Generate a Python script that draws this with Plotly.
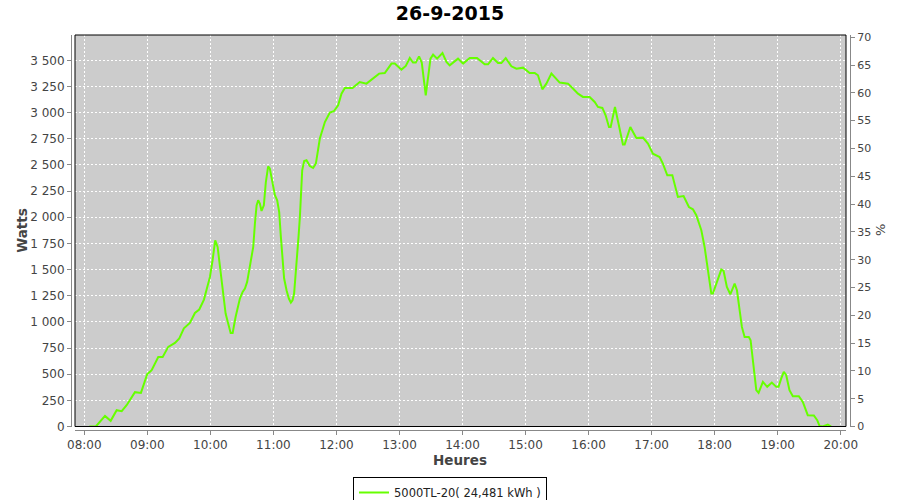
import plotly.graph_objects as go

chart_title = "26-9-2015"
series_name = "5000TL-20( 24,481 kWh )"
day = "2015-09-26"

times = [
    "08:04:48", "08:11:00", "08:19:42", "08:25:06", "08:30:48", "08:35:36", "08:40:18", "08:48:12",
    "08:53:54", "08:59:54", "09:04:06", "09:10:24", "09:14:36", "09:19:54", "09:26:18", "09:30:24",
    "09:34:48", "09:40:30", "09:45:18", "09:49:24", "09:53:54", "09:59:36", "10:02:06", "10:04:36",
    "10:06:54", "10:10:42", "10:14:30", "10:19:18", "10:21:12", "10:24:00", "10:28:06", "10:30:42",
    "10:32:54", "10:35:00", "10:37:00", "10:39:12", "10:40:48", "10:42:24", "10:44:00", "10:45:30",
    "10:47:06", "10:48:42", "10:50:54", "10:52:48", "10:55:00", "10:56:36", "10:58:48", "11:01:24",
    "11:03:36", "11:05:30", "11:07:06", "11:08:42", "11:10:12", "11:12:30", "11:14:42", "11:16:36",
    "11:18:12", "11:19:42", "11:21:24", "11:22:36", "11:23:54", "11:25:12", "11:26:06", "11:27:24",
    "11:29:18", "11:31:30", "11:34:42", "11:37:48", "11:40:24", "11:42:36", "11:44:12", "11:49:00",
    "11:53:42", "11:57:30", "12:01:36", "12:04:48", "12:08:00", "12:15:18", "12:22:12", "12:28:36",
    "12:36:30", "12:40:36", "12:46:00", "12:52:24", "12:55:30", "13:01:54", "13:06:00", "13:09:48",
    "13:12:54", "13:15:30", "13:18:36", "13:21:12", "13:25:00", "13:27:12", "13:29:30", "13:32:00",
    "13:35:48", "13:40:54", "13:44:42", "13:47:48", "13:55:42", "14:00:30", "14:06:54", "14:13:48",
    "14:21:06", "14:24:18", "14:29:00", "14:33:48", "14:37:00", "14:41:06", "14:46:30", "14:51:18",
    "14:57:36", "15:03:54", "15:08:42", "15:11:48", "15:16:00", "15:19:48", "15:24:36", "15:32:30",
    "15:40:24", "15:45:06", "15:49:54", "15:54:36", "16:01:00", "16:05:48", "16:08:54", "16:13:06",
    "16:16:12", "16:19:24", "16:21:00", "16:25:06", "16:28:54", "16:32:42", "16:34:18", "16:39:42",
    "16:45:24", "16:51:42", "16:56:30", "17:01:12", "17:07:36", "17:10:42", "17:14:54", "17:19:42",
    "17:25:00", "17:30:24", "17:35:30", "17:39:18", "17:42:30", "17:47:18", "17:50:24", "17:53:30",
    "17:56:48", "17:58:18", "18:02:06", "18:06:18", "18:08:30", "18:11:36", "18:14:54", "18:19:00",
    "18:21:12", "18:23:06", "18:25:54", "18:28:30", "18:32:30", "18:34:12", "18:36:18", "18:38:00",
    "18:39:36", "18:41:48", "18:45:54", "18:50:00", "18:54:24", "18:58:36", "19:00:48", "19:03:18",
    "19:05:48", "19:08:06", "19:11:12", "19:14:24", "19:20:06", "19:23:54", "19:28:36", "19:34:24",
    "19:37:36", "19:39:48", "19:42:54", "19:47:42", "19:50:54",
]

watts = [
    0, 0, 101, 54, 156, 146, 203, 328,
    321, 500, 538, 665, 665, 761, 799, 841,
    939, 990, 1085, 1118, 1213, 1430, 1589, 1780,
    1716, 1382, 1080, 894, 894, 1047, 1223, 1286,
    1318, 1382, 1494, 1605, 1716, 1940, 2114, 2162,
    2131, 2060, 2114, 2337, 2487, 2465, 2337, 2210,
    2162, 2050, 1812, 1589, 1414, 1302, 1223, 1185,
    1207, 1271, 1462, 1637, 1812, 2003, 2258, 2449,
    2538, 2545, 2490, 2471, 2513, 2640, 2752, 2910,
    3000, 3013, 3070, 3181, 3235, 3235, 3293, 3277,
    3341, 3373, 3379, 3469, 3469, 3411, 3446, 3522,
    3478, 3478, 3538, 3478, 3166, 3325, 3516, 3554,
    3516, 3570, 3484, 3452, 3516, 3469, 3522, 3522,
    3462, 3462, 3522, 3474, 3474, 3522, 3443, 3420,
    3430, 3379, 3379, 3357, 3223, 3277, 3373, 3287,
    3277, 3230, 3181, 3150, 3150, 3102, 3054, 3045,
    2975, 2863, 2863, 3054, 2879, 2695, 2695, 2863,
    2758, 2761, 2704, 2608, 2576, 2513, 2401, 2401,
    2194, 2203, 2098, 2076, 2019, 1876, 1716, 1494,
    1271, 1271, 1382, 1500, 1487, 1334, 1264, 1366,
    1302, 1143, 952, 856, 856, 825, 633, 442,
    347, 321, 426, 379, 420, 379, 379, 458,
    522, 490, 347, 290, 290, 235, 108, 105,
    60, 6, 0, 19, 0,
]

x_range = ["07:51:09", "20:05:00"]
watts_range = [0, 3742]
percent_range = [0, 70.4]

xs = [f"{day} {t}" for t in times]
font_family = "DejaVu Sans, Verdana, sans-serif"
tick_col = "#444444"
axis_col = "#888888"

fig = go.Figure()
fig.add_trace(go.Scatter(
    x=xs, y=watts, mode="lines", name=series_name,
    line=dict(color="#66ff00", width=2),
))
fig.add_trace(go.Scatter(
    x=[xs[0]], y=[0], yaxis="y2", mode="markers",
    marker=dict(opacity=0), showlegend=False, hoverinfo="skip",
))

W, H = 900, 500
ml, mr, mt, mb = 71, 50, 35, 70
pw = W - ml - mr
ph = H - mt - mb
dx = 4 / pw
dy = 3.5 / ph

fig.update_layout(
    width=W, height=H,
    margin=dict(l=ml, r=mr, t=mt, b=mb, autoexpand=False),
    paper_bgcolor="white",
    plot_bgcolor="#cccccc",
    separators=", ",
    font=dict(family=font_family, size=12, color=tick_col),
    title=dict(text="<b>" + chart_title + "</b>", x=0.5, xref="container", xanchor="center",
               y=1 - 13 / H, yref="container", yanchor="middle",
               font=dict(size=19, color="black", family=font_family)),
    showlegend=True,
    legend=dict(orientation="h", xref="container", x=0.5, xanchor="center",
                yref="container", y=1 - 477 / H, yanchor="top",
                bgcolor="white", bordercolor="black", borderwidth=1,
                font=dict(size=11.5, color="#222222"), itemwidth=30),
    xaxis=dict(
        type="date", domain=[dx, 1 - dx], anchor="free", position=0, automargin=False,
        range=[f"{day} {x_range[0]}", f"{day} {x_range[1]}"],
        tick0=f"{day} 08:00", dtick=3600000, tickformat="%H:%M",
        showgrid=True, gridcolor="white", griddash="2px,2px", gridwidth=1,
        zeroline=False, showline=True, linecolor=axis_col, linewidth=1,
        ticks="outside", ticklen=4, tickcolor=axis_col,
        tickfont=dict(size=12, color=tick_col),
    ),
    yaxis=dict(
        domain=[dy, 1], anchor="free", position=0, automargin=False,
        range=watts_range, dtick=250, tick0=0, tickformat=",d",
        showgrid=True, gridcolor="white", griddash="2px,2px", gridwidth=1,
        zeroline=False, showline=True, linecolor=axis_col, linewidth=1,
        ticks="outside", ticklen=4, tickcolor=axis_col,
        tickfont=dict(size=12, color=tick_col),
    ),
    yaxis2=dict(
        overlaying="y", side="right", anchor="free", position=1, automargin=False,
        range=percent_range, dtick=5, tick0=0,
        showgrid=False, zeroline=False, showline=True, linecolor=axis_col, linewidth=1,
        ticks="outside", ticklen=4, tickcolor=axis_col,
        tickfont=dict(size=11, color=tick_col),
    ),
    shapes=[dict(type="rect", xref="x domain", yref="y domain", x0=0, x1=1, y0=0, y1=1,
                 line=dict(color="black", width=1), fillcolor="rgba(0,0,0,0)", layer="above")],
    annotations=[
        dict(text="<b>Watts</b>", xref="paper", yref="paper",
             x=(21.7 - ml) / pw, y=(H - mb - 231) / ph, textangle=-90, showarrow=False,
             xanchor="center", yanchor="middle", font=dict(size=13.5, color=tick_col)),
        dict(text="<b>Heures</b>", xref="paper", yref="paper",
             x=(460 - ml) / pw, y=(H - mb - 460) / ph, showarrow=False,
             xanchor="center", yanchor="middle", font=dict(size=13.5, color=tick_col)),
        dict(text="%", xref="paper", yref="paper",
             x=(880 - ml) / pw, y=(H - mb - 230) / ph, textangle=-90, showarrow=False,
             xanchor="center", yanchor="middle", font=dict(size=13, color=tick_col)),
    ],
)

fig.write_html("out.html", config={"displayModeBar": False},
               post_script="document.body.style.margin='0px';")
